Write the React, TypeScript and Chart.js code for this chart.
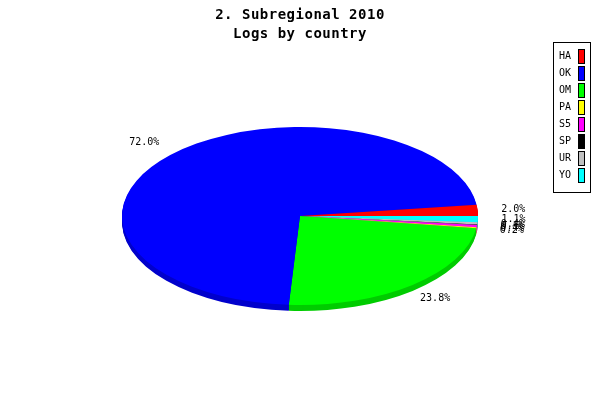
import React, { useEffect, useRef } from 'react'
import { Chart, registerables, Plugin, ArcElement } from 'chart.js'

Chart.register(...registerables)

const countries = ['HA', 'OK', 'OM', 'PA', 'S5', 'SP', 'UR', 'YO']
const shares = [2.0, 72.0, 23.8, 0.2, 0.4, 0.1, 0.4, 1.1]
const sliceColors = ['#ff0000', '#0000ff', '#00ff00', '#ffff00', '#ff00ff', '#000000', '#c0c0c0', '#00ffff']
const sideColors = ['#cc0000', '#0000cc', '#00cc00', '#cccc00', '#cc00cc', '#000000', '#999999', '#00cccc']
const titleLines = ['2. Subregional 2010', 'Logs by country']

// chart.js draws clockwise, the original goes counter-clockwise from 3 o'clock
const revLabels = [...countries].reverse()
const revShares = [...shares].reverse()
const revColors = [...sliceColors].reverse()
const revSides = [...sideColors].reverse()

const TILT = 0.5
const DEPTH = 6
const LABEL_R = 1.2
const MONO = '"DejaVu Sans Mono", monospace'

const squash = (ctx: CanvasRenderingContext2D, cx: number, cy: number, dy: number) => {
  ctx.translate(cx, cy + dy)
  ctx.scale(1, TILT)
  ctx.translate(-cx, -cy)
}

const pie3d: Plugin<'pie'> = {
  id: 'pie3d',
  beforeDatasetsDraw(chart) {
    const ctx = chart.ctx
    const arcs = chart.getDatasetMeta(0).data as unknown as ArcElement[]
    const cx = (arcs[0] as any).x
    const cy = (arcs[0] as any).y
    // side of the disc
    for (let d = DEPTH; d > 0; d--) {
      ctx.save()
      squash(ctx, cx, cy, d)
      arcs.forEach((arc: any, i) => {
        const orig = arc.options
        arc.options = { ...orig, backgroundColor: revSides[i] }
        arc.draw(ctx)
        arc.options = orig
      })
      ctx.restore()
    }
    ctx.save()
    squash(ctx, cx, cy, 0)
  },
  afterDatasetsDraw(chart) {
    const ctx = chart.ctx
    ctx.restore()
    const arcs = chart.getDatasetMeta(0).data as any[]
    ctx.save()
    ctx.font = `10px ${MONO}`
    ctx.fillStyle = '#000'
    ctx.textAlign = 'center'
    ctx.textBaseline = 'middle'
    // draw in the original order
    for (let i = arcs.length - 1; i >= 0; i--) {
      const arc = arcs[i]
      const mid = (arc.startAngle + arc.endAngle) / 2
      const x = arc.x + Math.cos(mid) * arc.outerRadius * LABEL_R
      const y = arc.y + Math.sin(mid) * arc.outerRadius * LABEL_R * TILT
      ctx.fillText(revShares[i].toFixed(1) + '%', x, y)
    }
    ctx.restore()
  },
  afterDraw(chart) {
    const ctx = chart.ctx
    ctx.save()
    ctx.fillStyle = '#000'
    ctx.textAlign = 'center'
    ctx.textBaseline = 'alphabetic'
    ctx.font = `bold 14px ${MONO}`
    ;(ctx as any).letterSpacing = '0.5px'
    ctx.fillText(titleLines[0], 300, 19)
    ctx.fillText(titleLines[1], 300, 38)
    ;(ctx as any).letterSpacing = '0px'

    // legend
    ctx.strokeStyle = '#000'
    ctx.lineWidth = 1
    ctx.strokeRect(553.5, 42.5, 37, 150)
    ctx.font = `10px ${MONO}`
    ctx.textAlign = 'left'
    ctx.textBaseline = 'middle'
    countries.forEach((name, i) => {
      const y = 56 + i * 17
      ctx.fillStyle = '#000'
      ctx.fillText(name, 559, y)
      ctx.fillStyle = sliceColors[i]
      ctx.fillRect(578, y - 7, 6, 14)
      ctx.strokeRect(578.5, y - 6.5, 6, 14)
    })
    ctx.restore()
  }
}

const App: React.FC = () => {
  const canvasRef = useRef<HTMLCanvasElement | null>(null)

  useEffect(() => {
    if (!canvasRef.current) return
    const chart = new Chart(canvasRef.current, {
      type: 'pie',
      data: {
        labels: revLabels,
        datasets: [
          {
            data: revShares,
            backgroundColor: revColors,
            borderWidth: 0
          }
        ]
      },
      options: {
        animation: false,
        responsive: true,
        maintainAspectRatio: false,
        events: [],
        rotation: 90,
        layout: { padding: { left: 122, right: 122, top: 38, bottom: 6 } },
        plugins: {
          legend: { display: false },
          tooltip: { enabled: false },
          title: { display: false }
        }
      },
      plugins: [pie3d]
    })
    return () => chart.destroy()
  }, [])

  return (
    <div style={{ position: 'absolute', left: 0, top: 0, width: 600, height: 400, background: '#fff' }}>
      <canvas ref={canvasRef} />
    </div>
  )
}

export default App
